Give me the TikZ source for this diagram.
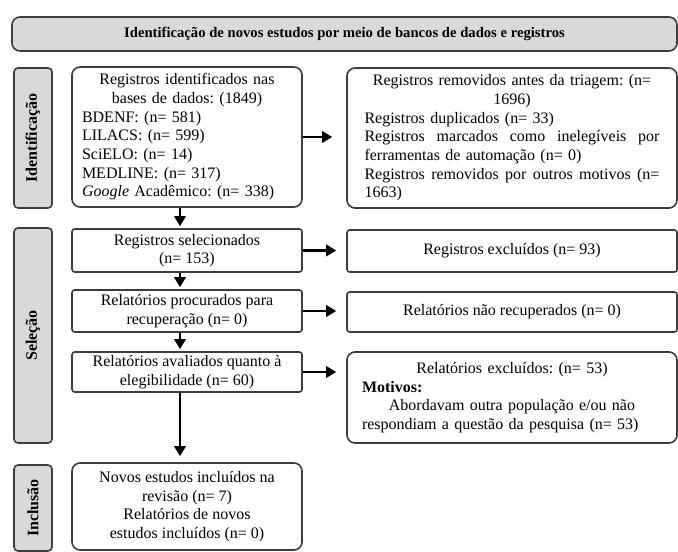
\documentclass[tikz,border=0pt]{standalone}
\usepackage{fontspec}
\setmainfont{Liberation Serif}
\usetikzlibrary{arrows.meta}
\frenchspacing
\definecolor{boxline}{RGB}{60,60,60}
\definecolor{phasefill}{RGB}{217,217,217}
\tikzset{
	boxbase/.style={draw=boxline, line width=1.2pt, inner sep=0pt, font=\fontsize{12}{14}\selectfont},
	roundbox/.style={boxbase, fill=white, rounded corners=6pt},
	flatbox/.style={boxbase, fill=white, rounded corners=2pt, align=center},
	phase/.style={boxbase, fill=phasefill, rounded corners=3pt, rotate=90, minimum height=28.5pt, font=\fontsize{12}{14}\selectfont\bfseries},
	flow/.style={line width=1.8pt, -{Triangle[length=7.5pt,width=8.5pt]}, shorten >=1.5pt},
}

\begin{document}
\begin{tikzpicture}[x=0.75pt, y=-0.75pt]
			%%%%% START %%%%%
			
			\useasboundingbox[fill=white] (0, 0) rectangle (678, 552);
			
			\node[roundbox, fill=phasefill, minimum width=498.75pt, minimum height=25.5pt, font=\fontsize{11}{13}\selectfont\bfseries] (banner) at (344.5, 34) {Identificação de novos estudos por meio de bancos de dados e registros};
			
			% fases
			\node[phase, minimum width=105pt] (identlab) at (33, 138) {Identificação};
			\node[phase, minimum width=161.25pt] (sellab) at (33, 335.5) {Seleção};
			\node[phase, minimum width=64.5pt] (incllab) at (33, 508) {Inclusão};
			
			% identificacao
			\node[roundbox, minimum width=172.5pt, minimum height=105pt, text width=157.5pt, align=left] (idbox) at (187, 137) {\centering Registros identificados nas\\ bases de dados: (1849)\par
				\raggedright BDENF: (n= 581)\\ LILACS: (n= 599)\\ SciELO: (n= 14)\\ MEDLINE: (n= 317)\\ \textit{Google} Acadêmico: (n= 338)};
			\node[roundbox, minimum width=247.5pt, minimum height=105pt, text width=221.25pt, align=left] (rmbox) at (512, 138) {\centering Registros removidos antes da triagem: (n=\\ 1696)\par
				\raggedright Registros duplicados (n= 33)\\
				\leavevmode\hbox to 221.25pt{Registros\hfill marcados\hfill como\hfill inelegíveis\hfill por}\\
				ferramentas de automação (n= 0)\\
				\leavevmode\hbox to 221.25pt{Registros\hfill removidos\hfill por\hfill outros\hfill motivos\hfill (n=}\\
				1663)};
			
			% selecao
			\node[flatbox, minimum width=172.5pt, minimum height=32.25pt] (selbox) at (187, 250.5) {Registros selecionados\\ (n= 153)};
			\node[flatbox, minimum width=247.5pt, minimum height=31.5pt] (exclbox) at (512, 251) {Registros excluídos (n= 93)};
			
			\node[flatbox, minimum width=172.5pt, minimum height=31.5pt] (procbox) at (187, 311) {Relatórios procurados para\\ recuperação (n= 0)};
			\node[flatbox, minimum width=247.5pt, minimum height=30pt] (notrecbox) at (512, 312) {Relatórios não recuperados (n= 0)};
			
			\node[flatbox, minimum width=172.5pt, minimum height=30pt] (evalbox) at (187, 372) {Relatórios avaliados quanto à\\ elegibilidade (n= 60)};
			\node[roundbox, minimum width=247.5pt, minimum height=68.25pt, text width=225pt, align=left] (exrepbox) at (512, 397.5) {\centering Relatórios excluídos: (n= 53)\par
				\raggedright\textbf{Motivos:}\par
				\centering Abordavam outra população e/ou não\\ respondiam a questão da pesquisa (n= 53)};
			
			% inclusao
			\node[roundbox, minimum width=172.5pt, minimum height=65.25pt, align=center] (inclbox) at (187, 506.5) {Novos estudos incluídos na\\ revisão (n= 7)\\ Relatórios de novos\\ estudos incluídos (n= 0)};
			
			% setas
			\draw[flow, shorten >=10.5pt] (idbox.east) -- (idbox.east -| rmbox.west);
			\draw[flow, shorten >=7.5pt] (selbox.east) -- (selbox.east -| exclbox.west);
			\draw[flow, shorten >=7.5pt] (procbox.east) -- (procbox.east -| notrecbox.west);
			\draw[flow, shorten >=7.5pt] (evalbox.east) -- (evalbox.east -| exrepbox.west);
			
			\draw[flow] ([xshift=-5.25pt]idbox.south) -- ([xshift=-5.25pt]selbox.north);
			\draw[flow] ([xshift=-5.25pt]selbox.south) -- ([xshift=-5.25pt]procbox.north);
			\draw[flow] ([xshift=-5.25pt]procbox.south) -- ([xshift=-5.25pt]evalbox.north);
			\draw[flow, shorten >=4.5pt] ([xshift=-5.25pt]evalbox.south) -- ([xshift=-5.25pt]inclbox.north);
			
			%%%%% END %%%%%
\end{tikzpicture}
\end{document}
